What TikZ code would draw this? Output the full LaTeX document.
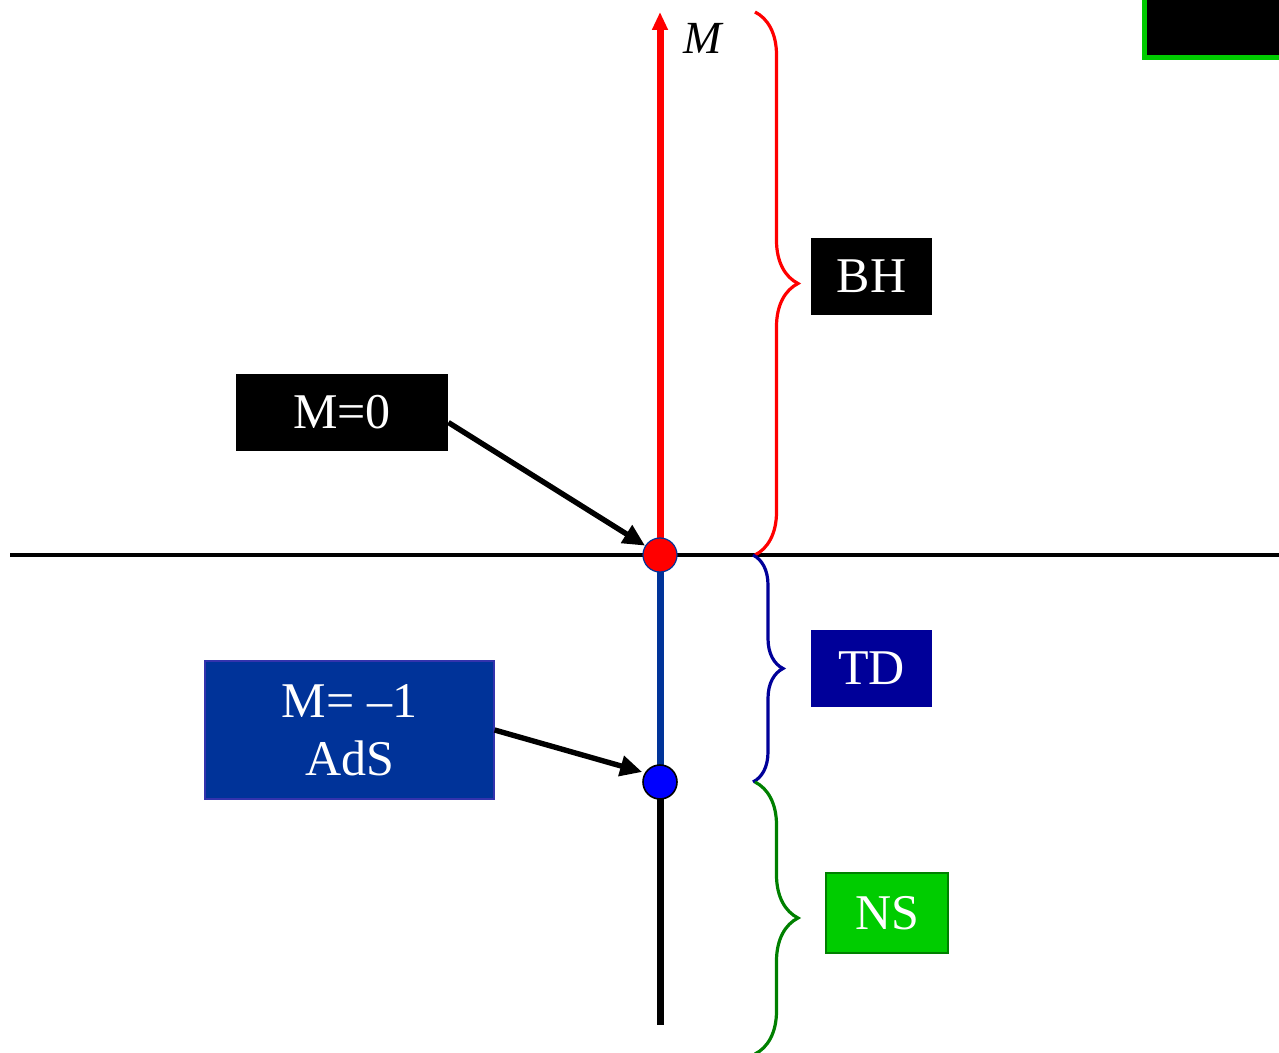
\documentclass[tikz,border=0pt]{standalone}
\usepackage{fontspec}
\setmainfont{Liberation Serif}
\usetikzlibrary{arrows.meta,decorations.pathreplacing}

\definecolor{adsblue}{HTML}{003399}
\definecolor{tdblue}{HTML}{000099}
\definecolor{nsgreen}{HTML}{00CC00}
\definecolor{bracegreen}{HTML}{008000}

\begin{document}
\begin{tikzpicture}[x=0.5pt, y=-0.5pt,
    tag/.style={text=white, font=\fontsize{25}{29}\selectfont, inner sep=0pt, align=center},
    pointer/.style={line width=2.7pt, -{Triangle[length=11pt,width=10pt]}},
    curly/.style={line width=1.6pt, decorate, decoration={brace, amplitude=#1}}]
    \useasboundingbox (0,0) rectangle (1279,1053);

    % the M axis and the horizontal line
    \coordinate (top) at (660,12);
    \coordinate (bottom) at (660,1025);
    \draw[line width=2pt] (10,555) -- (1279,555);
    \draw[line width=3.5pt] (660,782) -- (bottom);
    \draw[adsblue, line width=3.5pt] (660,555) -- (660,782);
    \draw[red, line width=3.5pt, -{Triangle[length=9pt,width=7.5pt]}] (660,555) -- (top);
    \node[font=\fontsize{23}{27}\selectfont\itshape, anchor=west] (mlabel) at (676,38) {M};

    % points on the axis
    \node[circle, fill=red, draw=adsblue, line width=0.6pt, minimum size=17pt, inner sep=0pt] (zero) at (660,555) {};
    \node[circle, fill=blue, draw=black, line width=0.8pt, minimum size=17pt, inner sep=0pt] (ads) at (660,782) {};

    % braces for the three ranges
    \draw[red, curly=21.5pt] (755,12) -- (755,555);
    \draw[tdblue, curly=15pt] (753,555) -- (753,782);
    \draw[bracegreen, curly=21.5pt] (755,782) -- (755,1054);

    % range labels
    \node[tag, fill=black, minimum width=60.5pt, minimum height=38.5pt] (bh) at (871.5,276.5) {BH};
    \node[tag, fill=tdblue, minimum width=60.5pt, minimum height=38.5pt] (td) at (871.5,668.5) {TD};
    \node[tag, fill=nsgreen, draw=bracegreen, line width=0.6pt, minimum width=61pt, minimum height=40pt] (ns) at (887,913) {NS};

    % point labels
    \node[tag, fill=black, minimum width=106pt, minimum height=38.5pt] (mzero) at (342,412.5) {M=0};
    \node[tag, fill=adsblue, draw=tdblue!80!white, line width=0.6pt, minimum width=144.5pt, minimum height=69pt] (mads) at (349.5,730) {M= \textendash1\\AdS};
    \draw[pointer] ([yshift=-5pt]mzero.east) -- (zero);
    \draw[pointer] (mads.east) -- ([yshift=5pt]ads.west);

    % box cut off at the corner
    \draw[nsgreen, line width=2.5pt, fill=black] (1144,-20) rectangle (1300,58);
\end{tikzpicture}
\end{document}
